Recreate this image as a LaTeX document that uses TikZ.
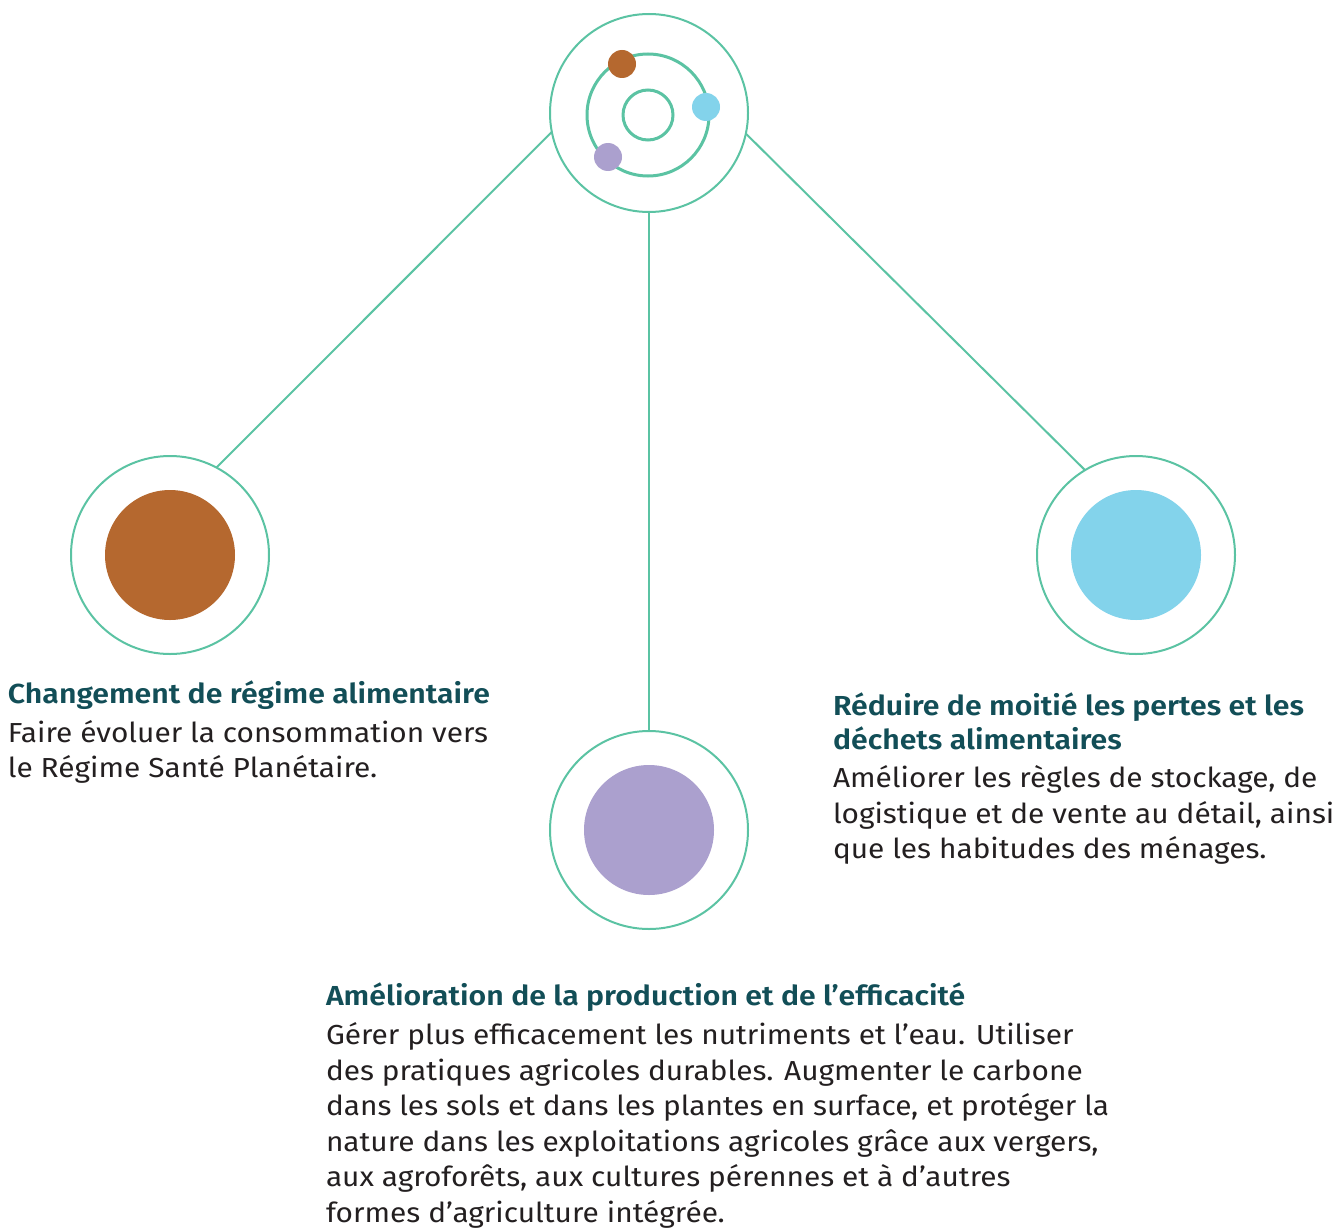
\documentclass[tikz,border=0pt]{standalone}
\usepackage{fontspec}
\setmainfont{Fira Sans}[FakeStretch=1.085, BoldFont={Fira Sans SemiBold}, BoldFeatures={FakeStretch=1.10}]
\definecolor{ring}{HTML}{5BC3A3}
\definecolor{brownc}{HTML}{B5682F}
\definecolor{bluec}{HTML}{83D3EB}
\definecolor{purplec}{HTML}{ABA0CE}
\definecolor{headc}{HTML}{124E57}
\definecolor{bodyc}{HTML}{231F20}
\newcommand{\hd}[1]{{\color{headc}\bfseries #1}}
\tikzset{
  outer/.style={circle, draw=ring, line width=2pt, minimum size=198pt, inner sep=0pt, outer sep=0pt, fill=white},
  fillc/.style={circle, fill=#1, minimum size=130pt, inner sep=0pt, outer sep=0pt},
  dot/.style={circle, fill=#1, minimum size=28pt, inner sep=0pt, outer sep=0pt},
  orbit/.style={circle, draw=ring, line width=3pt, minimum size=#1, inner sep=0pt, outer sep=0pt},
  link/.style={draw=ring, line width=2pt},
  txt/.style={anchor=base west, inner sep=0pt, outer sep=0pt, text=bodyc, font=\fontsize{27.5}{35.5}\selectfont}
}
\begin{document}
\begin{tikzpicture}[x=1pt,y=-1pt]
\useasboundingbox (0,0) rectangle (1338,1228);
% circles
\node[outer] (top) at (649,113) {};
\node[orbit=122pt] (orb) at (648,115) {};
\node[orbit=50pt] (core) at (648,115) {};
\node[dot=brownc] (d1) at (622,64) {};
\node[dot=bluec] (d2) at (706,107) {};
\node[dot=purplec] (d3) at (608,157) {};
\node[outer] (left) at (170,555) {};
\node[fillc=brownc] (leftf) at (170,555) {};
\node[outer] (right) at (1136,555) {};
\node[fillc=bluec] (rightf) at (1136,555) {};
\node[outer] (bot) at (649,830) {};
\node[fillc=purplec] (botf) at (649,830) {};
% connectors
\draw[link] (top.191.5) -- (left.62);
\draw[link] (top.348.5) -- (right.121);
\draw[link] (top.south) -- (bot.north);
% texts
\node[txt] (t1) at (8,703) {\begin{tabular}[t]{@{}l@{}}\hd{Changement de régime alimentaire}\\[3.5pt]Faire évoluer la consommation vers\\le Régime Santé Planétaire.\end{tabular}};
\node[txt] (t2) at (833,715) {\begin{tabular}[t]{@{}l@{}}\hd{Réduire de moitié les pertes et les}\\[-1.5pt]\hd{déchets alimentaires}\\[3pt]Améliorer les règles de stockage, de\\logistique et de vente au détail, ainsi\\que les habitudes des ménages.\end{tabular}};
\node[txt] (t3) at (326,1005) {\begin{tabular}[t]{@{}l@{}}\hd{Amélioration de la production et de l’efficacité}\\[4pt]Gérer plus efficacement les nutriments et l’eau. Utiliser\\des pratiques agricoles durables. Augmenter le carbone\\dans les sols et dans les plantes en surface, et protéger la\\nature dans les exploitations agricoles grâce aux vergers,\\aux agroforêts, aux cultures pérennes et à d’autres\\formes d’agriculture intégrée.\end{tabular}};
\end{tikzpicture}
\end{document}
